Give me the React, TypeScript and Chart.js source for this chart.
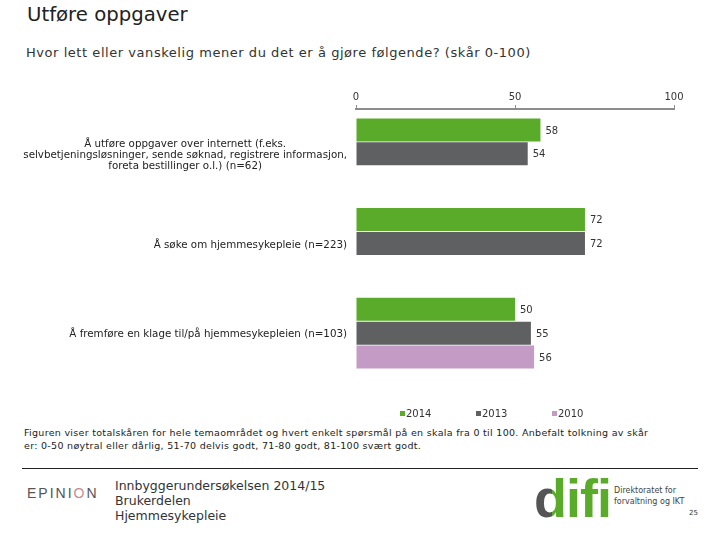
import React, { useEffect, useRef } from "react";
import { Chart, registerables } from "chart.js";

Chart.register(...registerables);

const categories: string[][] = [
  [
    "Å utføre oppgaver over internett (f.eks.",
    "selvbetjeningsløsninger, sende søknad, registrere informasjon,",
    "foreta bestillinger o.l.) (n=62)",
  ],
  ["Å søke om hjemmesykepleie (n=223)"],
  ["Å fremføre en klage til/på hjemmesykepleien (n=103)"],
];
const seriesNames = ["2014", "2013", "2010"];
const values2014 = [58, 72, 50];
const values2013 = [54, 72, 55];
const values2010: (number | null)[] = [null, null, 56];
const xTicks = [0, 50, 100];

const colors = ["#5bab2b", "#5f6062", "#c39bc5"];
const FONT = '"DejaVu Sans", Verdana, sans-serif';

const overlayPlugin = {
  id: "overlayPlugin",
  afterDatasetsDraw(chart: any) {
    const ctx = chart.ctx;
    ctx.save();
    ctx.font = `10px ${FONT}`;
    ctx.fillStyle = "#333";
    ctx.textBaseline = "middle";
    ctx.textAlign = "left";
    chart.data.datasets.forEach((ds: any, di: number) => {
      const meta = chart.getDatasetMeta(di);
      meta.data.forEach((bar: any, i: number) => {
        const v = ds.data[i];
        if (v == null) return;
        ctx.fillText(String(v), bar.x + 5, bar.y + 1);
      });
    });
    // category labels (each block right-aligned, lines centred within block)
    const ys = chart.scales.y;
    ctx.font = `10.3px ${FONT}`;
    ctx.fillStyle = "#222";
    ctx.textAlign = "center";
    categories.forEach((lines, i) => {
      const cy = ys.getPixelForTick(i);
      const w = Math.max(...lines.map((l) => ctx.measureText(l).width));
      const cx = chart.chartArea.left - 9 - w / 2;
      const lh = 11;
      lines.forEach((l, j) =>
        ctx.fillText(l, cx, cy + 1.5 + (j - (lines.length - 1) / 2) * lh)
      );
    });
    // legend
    ctx.font = `10px ${FONT}`;
    const ly = chart.chartArea.bottom + 35;
    let lx = chart.chartArea.left + 44;
    ctx.textAlign = "left";
    chart.data.datasets.forEach((ds: any) => {
      ctx.fillStyle = ds.backgroundColor;
      ctx.fillRect(lx, ly - 2, 5, 5);
      ctx.fillStyle = "#333";
      ctx.fillText(ds.label, lx + 6, ly + 1);
      lx += 76;
    });
    ctx.restore();
  },
};

function ChartCanvas() {
  const ref = useRef<HTMLCanvasElement | null>(null);
  useEffect(() => {
    if (!ref.current) return;
    const chart = new Chart(ref.current, {
      type: "bar",
      data: {
        labels: categories.map((c) => c.join(" ")),
        datasets: [
          { label: seriesNames[0], data: values2014, backgroundColor: colors[0] },
          { label: seriesNames[1], data: values2013, backgroundColor: colors[1] },
          { label: seriesNames[2], data: values2010, backgroundColor: colors[2] },
        ].map((d) => ({ ...d, barPercentage: 0.96, categoryPercentage: 0.8, borderWidth: 0 })),
      },
      options: {
        indexAxis: "y",
        animation: false,
        responsive: false,
        maintainAspectRatio: false,
        devicePixelRatio: 1,
        layout: { padding: { top: 80, right: 46, bottom: 47, left: 0 } },
        scales: {
          x: {
            position: "top",
            min: 0,
            max: 100,
            afterBuildTicks: (s: any) => {
              s.ticks = xTicks.map((v) => ({ value: v }));
            },
            afterFit: (s: any) => {
              s.height = 29;
            },
            ticks: { font: { family: FONT, size: 10 }, color: "#333", padding: 2 },
            grid: {
              drawOnChartArea: false,
              drawTicks: true,
              tickLength: 4,
              color: "#8c8c8c",
              lineWidth: 1,
            },
            border: { display: true, color: "#8c8c8c", width: 2 },
          },
          y: {
            afterFit: (s: any) => {
              s.width = 356;
            },
            ticks: { display: false },
            grid: { display: false, drawTicks: false },
            border: { display: false },
          },
        },
        plugins: {
          legend: { display: false },
          tooltip: { enabled: false },
          title: { display: false },
        },
      } as any,
      plugins: [overlayPlugin],
    });
    return () => chart.destroy();
  }, []);
  return (
    <canvas
      ref={ref}
      width={720}
      height={425}
      style={{ position: "absolute", left: 0, top: 0, width: 720, height: 425 }}
    />
  );
}

export default function App() {
  const abs = (o: any): any => ({ position: "absolute", ...o });
  return (
    <div
      style={{
        position: "absolute",
        left: 0,
        top: 0,
        width: 720,
        height: 540,
        background: "#fff",
        fontFamily: FONT,
        color: "#222",
        overflow: "hidden",
      }}
    >
      <div style={abs({ left: 27, top: 3, fontSize: 19.7, whiteSpace: "nowrap" })}>Utføre oppgaver</div>
      <div
        style={abs({
          left: 26,
          top: 45,
          fontSize: 13,
          letterSpacing: "0.55px",
          color: "#333",
          whiteSpace: "nowrap",
        })}
      >
        Hvor lett eller vanskelig mener du det er å gjøre følgende? (skår 0-100)
      </div>
      <ChartCanvas />
      <div
        style={abs({
          left: 24,
          top: 426,
          fontSize: 9.5,
          letterSpacing: "0.3px",
          lineHeight: "13px",
          color: "#222",
          whiteSpace: "nowrap",
        })}
      >
        Figuren viser totalskåren for hele temaområdet og hvert enkelt spørsmål på en skala fra 0 til 100. Anbefalt tolkning av skår
        <br />
        er: 0-50 nøytral eller dårlig, 51-70 delvis godt, 71-80 godt, 81-100 svært godt.
      </div>
      <div style={abs({ left: 22, top: 468, width: 676, height: 1, background: "#222" })} />
      <div
        style={abs({
          left: 27,
          top: 485,
          fontSize: 14,
          letterSpacing: "2px",
          color: "#555",
          fontFamily: '"Liberation Sans", sans-serif',
          whiteSpace: "nowrap",
        })}
      >
        EPINI<span style={{ color: "#c98a8f" }}>O</span>N
      </div>
      <div style={abs({ left: 115, top: 478, fontSize: 12.5, lineHeight: "15px", color: "#333" })}>
        Innbyggerundersøkelsen 2014/15
        <br />
        Brukerdelen
        <br />
        Hjemmesykepleie
      </div>
      <div
        style={abs({
          left: 534,
          top: 468,
          fontSize: 54,
          fontWeight: "bold",
          fontFamily: '"Liberation Sans", sans-serif',
          letterSpacing: "-1px",
          lineHeight: "60px",
          whiteSpace: "nowrap",
        })}
      >
        <span
          style={{
            background: "linear-gradient(to right, #555 55%, #5bab2b 55%)",
            WebkitBackgroundClip: "text",
            backgroundClip: "text",
            color: "transparent",
          }}
        >
          d
        </span>
        <span style={{ color: "#5bab2b" }}>ifi</span>
      </div>
      <div style={abs({ left: 614, top: 485, fontSize: 8, lineHeight: "11px", color: "#444", whiteSpace: "nowrap" })}>
        Direktoratet for
        <br />
        forvaltning og IKT
      </div>
      <div style={abs({ left: 689, top: 509, fontSize: 7, color: "#333" })}>25</div>
    </div>
  );
}
